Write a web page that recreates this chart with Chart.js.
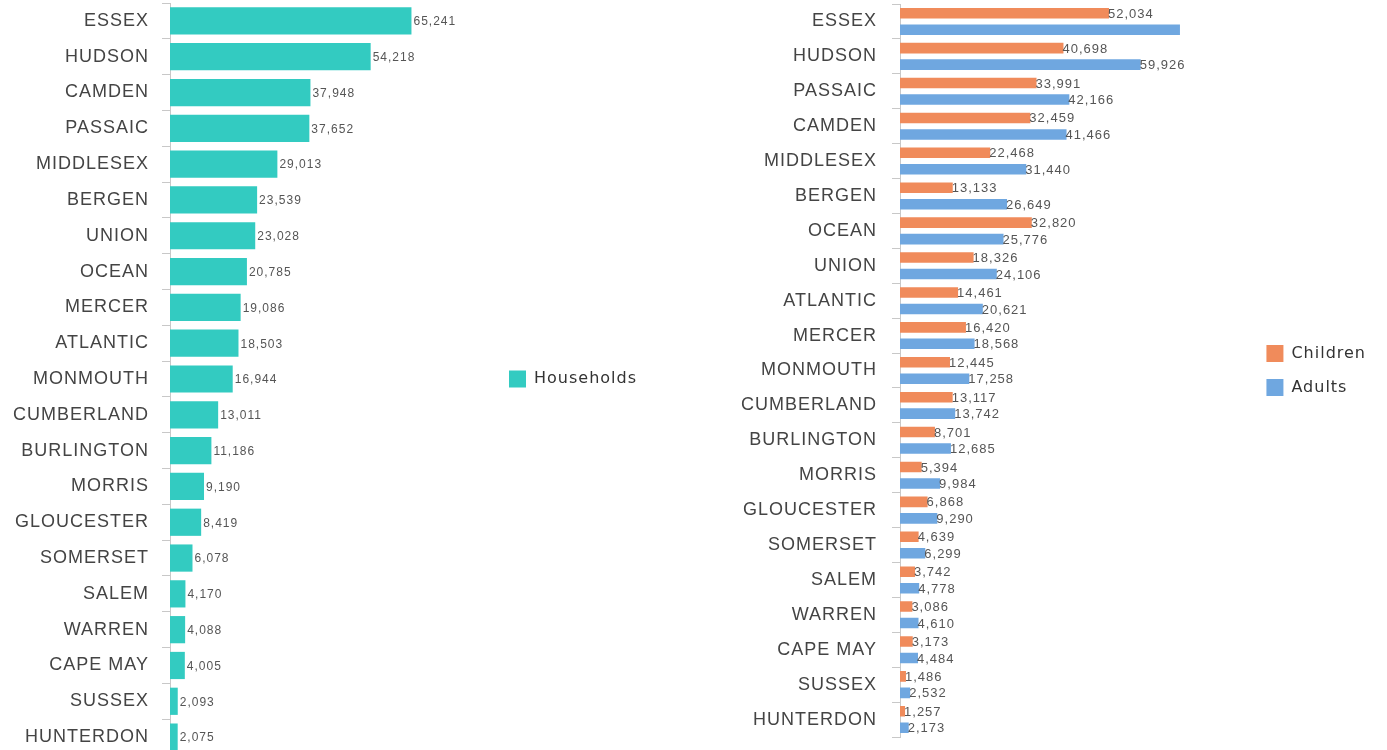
<!DOCTYPE html>
<html>
<head>
<meta charset="utf-8">
<script src="https://cdn.jsdelivr.net/npm/chart.js@4"></script>
<style>
  body { margin: 0; background: #fff; overflow: hidden; width: 1387px; height: 750px; position: relative; }
  #izq { position: absolute; left: 0; top: 0; width: 700px; height: 760px; }
  #der { position: absolute; left: 700px; top: 0; width: 687px; height: 750px; }
</style>
</head>
<body>
<div id="izq"><canvas id="c1"></canvas></div>
<div id="der"><canvas id="c2"></canvas></div>
<script>
// datos de la grafica de hogares
const condadosHogares = ["ESSEX", "HUDSON", "CAMDEN", "PASSAIC", "MIDDLESEX", "BERGEN", "UNION", "OCEAN", "MERCER", "ATLANTIC", "MONMOUTH", "CUMBERLAND", "BURLINGTON", "MORRIS", "GLOUCESTER", "SOMERSET", "SALEM", "WARREN", "CAPE MAY", "SUSSEX", "HUNTERDON"];
const hogares = [65241, 54218, 37948, 37652, 29013, 23539, 23028, 20785, 19086, 18503, 16944, 13011, 11186, 9190, 8419, 6078, 4170, 4088, 4005, 2093, 2075];

// datos de ninos y adultos
const condadosPersonas = ["ESSEX", "HUDSON", "PASSAIC", "CAMDEN", "MIDDLESEX", "BERGEN", "OCEAN", "UNION", "ATLANTIC", "MERCER", "MONMOUTH", "CUMBERLAND", "BURLINGTON", "MORRIS", "GLOUCESTER", "SOMERSET", "SALEM", "WARREN", "CAPE MAY", "SUSSEX", "HUNTERDON"];
const ninos = [52034, 40698, 33991, 32459, 22468, 13133, 32820, 18326, 14461, 16420, 12445, 13117, 8701, 5394, 6868, 4639, 3742, 3086, 3173, 1486, 1257];
const adultos = [69700, 59926, 42166, 41466, 31440, 26649, 25776, 24106, 20621, 18568, 17258, 13742, 12685, 9984, 9290, 6299, 4778, 4610, 4484, 2532, 2173];
const adultosSinEtiqueta = [0];

const COLORES = { hogares: "#33cbc1", ninos: "#f08b5b", adultos: "#6fa7e0" };

// espaciado de letras como en la imagen
const espaciado = {
  id: "espaciado",
  beforeLayout(chart) { chart.ctx.letterSpacing = "1px"; },
  beforeDraw(chart) { chart.ctx.letterSpacing = "1px"; },
};

// etiquetas con el valor al final de cada barra
const etiquetasValor = {
  id: "etiquetasValor",
  afterDatasetsDraw(chart, args, opts) {
    const ctx = chart.ctx;
    ctx.save();
    ctx.font = opts.font;
    ctx.fillStyle = "#555";
    ctx.textBaseline = "middle";
    ctx.textAlign = "left";
    ctx.letterSpacing = "1px";
    chart.data.datasets.forEach((ds, i) => {
      chart.getDatasetMeta(i).data.forEach((bar, j) => {
        if ((ds.ocultar || []).includes(j)) return;
        ctx.fillText(ds.data[j].toLocaleString("en-US"), bar.x + opts.offset, bar.y + 1);
      });
    });
    ctx.restore();
  },
};

const crearGrafica = (canvas, etiquetas, datasets, cfg) => {
  return new Chart(canvas, {
    type: "bar",
    data: { labels: etiquetas, datasets: datasets },
    plugins: [espaciado, etiquetasValor],
    options: {
      indexAxis: "y",
      responsive: true,
      maintainAspectRatio: false,
      animation: false,
      devicePixelRatio: 1,
      layout: { padding: cfg.padding },
      scales: {
        x: { display: false, min: 0, max: cfg.max },
        y: {
          afterFit: (s) => {
            s.width = cfg.anchoEje;
            s.paddingTop = 0;
            s.paddingBottom = 0;
          },
          grid: { drawOnChartArea: false, drawTicks: true, tickLength: 8, color: "#c8c8c8", offset: true },
          border: { color: "#c8c8c8" },
          ticks: { color: "#444", font: { family: "Liberation Sans", size: 18 }, padding: cfg.pad, autoSkip: false },
        },
      },
      plugins: {
        tooltip: { enabled: false },
        etiquetasValor: { font: cfg.fuente, offset: cfg.offset },
        legend: {
          position: "right",
          labels: {
            boxWidth: 17,
            boxHeight: 17,
            padding: 17,
            color: "#333",
            font: { family: "DejaVu Sans", size: 16 },
          },
        },
      },
    },
  });
};

crearGrafica(document.getElementById("c1"), condadosHogares, [
  { label: "Households", data: hogares, backgroundColor: COLORES.hogares, borderWidth: 0, categoryPercentage: 0.8, barPercentage: 0.95 },
], { max: 87000, anchoEje: 170, pad: 13, padding: { top: 3, bottom: 5, right: 53 }, fuente: "12px 'Liberation Sans'", offset: 2 });

crearGrafica(document.getElementById("c2"), condadosPersonas, [
  { label: "Children", data: ninos, backgroundColor: COLORES.ninos, borderWidth: 0, categoryPercentage: 0.945, barPercentage: 0.64 },
  { label: "Adults", data: adultos, backgroundColor: COLORES.adultos, borderWidth: 0, categoryPercentage: 0.945, barPercentage: 0.64, ocultar: adultosSinEtiqueta },
], { max: 87000, anchoEje: 200, pad: 15, padding: { top: 4, bottom: 13, right: 11 }, fuente: "13px 'Liberation Sans'", offset: -1 });
</script>
</body>
</html>
